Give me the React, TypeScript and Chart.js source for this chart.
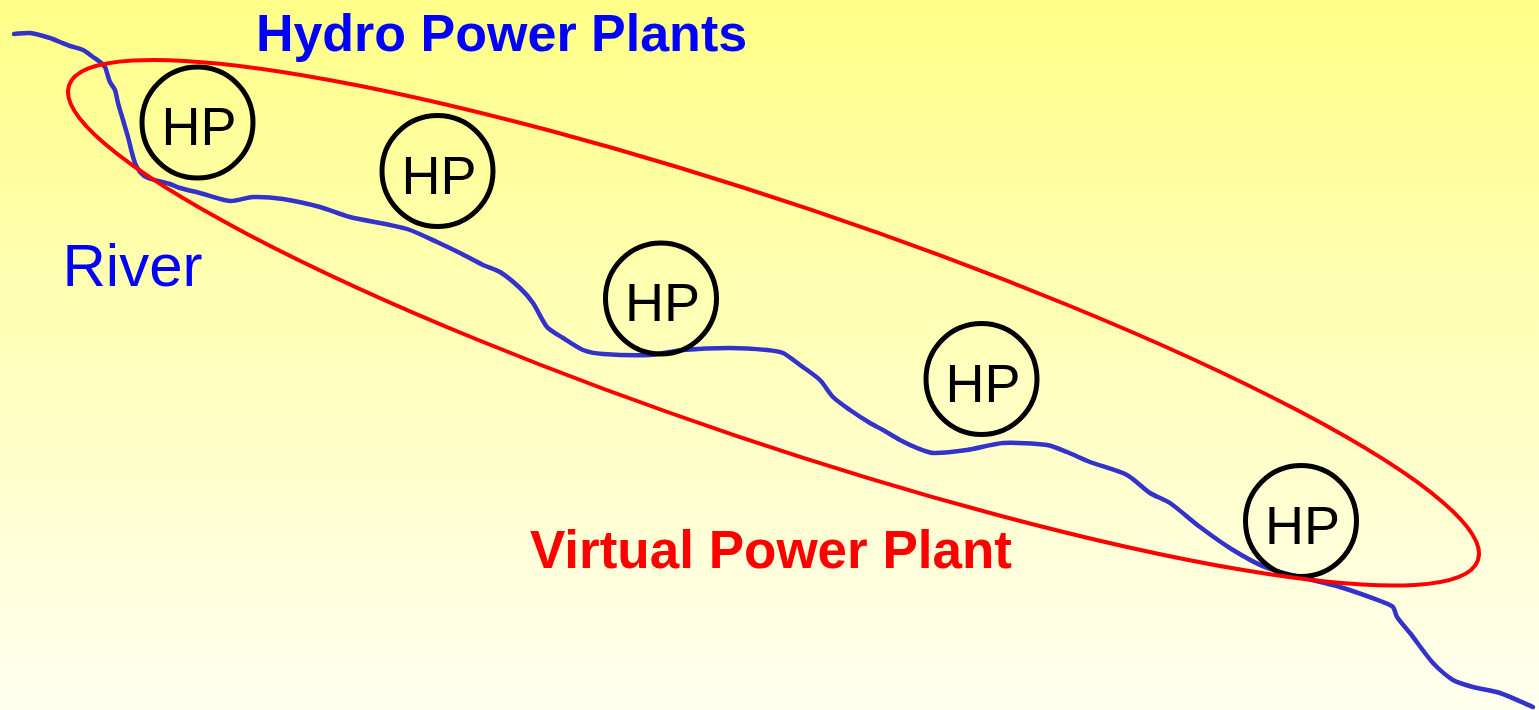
import React, { useEffect, useRef } from "react";
import { Chart, registerables } from "chart.js";

Chart.register(...registerables);

// River course (x to the right, y downward, in drawing units)
const riverX = [14, 30, 50, 60, 70, 83, 93, 100, 105, 107, 110, 115, 118, 123, 128, 132, 135, 140, 148, 170, 180, 200, 230, 253, 283, 320, 350, 390, 410, 437, 460, 483, 500, 520, 533, 547, 563, 583, 603, 650, 683, 730, 767, 783, 800, 820, 833, 850, 870, 883, 900, 917, 933, 967, 1003, 1047, 1067, 1090, 1127, 1150, 1170, 1200, 1233, 1267, 1300, 1340, 1383, 1393, 1397, 1410, 1433, 1453, 1473, 1500, 1533];
const riverY = [34, 33, 38, 42, 46, 50, 57, 62, 67, 73, 82, 90, 103, 120, 137, 153, 163, 172, 178, 184, 188, 193, 201, 197, 199, 207, 217, 225, 230, 242, 253, 265, 272, 288, 303, 327, 338, 350, 354, 355, 350, 348, 350, 353, 365, 380, 397, 410, 423, 430, 440, 448, 453, 450, 443, 445, 452, 462, 475, 493, 503, 527, 550, 568, 577, 587, 602, 607, 617, 633, 663, 680, 687, 693, 707];

// Hydro power plants
const plantLabels = ["HP", "HP", "HP", "HP", "HP"];
const plantX = [197.5, 437.5, 661, 981.5, 1301];
const plantY = [122.5, 171, 298.5, 379, 521];

// Virtual power plant boundary (ellipse): centre, semi-axes, tilt in degrees
const vppCenter = [773.5, 322.75];
const vppAxes = [743.4, 119];
const vppTilt = [18.62];

// Text labels
const textLabels = ["Hydro Power Plants", "Virtual Power Plant", "River"];
const textX = [501.5, 771, 132.5];
const textY = [51, 568, 286];
const textColors = ["#0000FF", "#FF0000", "#0000FF"];
const textFonts = [
  'bold 52px "Liberation Sans", Arial, sans-serif',
  'bold 53px "Liberation Sans", Arial, sans-serif',
  '60px "Liberation Sans", Arial, sans-serif',
];

const W = 1539;
const H = 710;

export default function App() {
  const ref = useRef<HTMLCanvasElement | null>(null);

  useEffect(() => {
    const canvas = ref.current;
    if (!canvas) return;

    const backgroundPlugin = {
      id: "bgGradient",
      beforeDraw(chart: any) {
        const { ctx, width, height } = chart;
        const g = ctx.createLinearGradient(0, 0, 0, height);
        g.addColorStop(0, "#FFFF88");
        g.addColorStop(1, "#FFFFF0");
        ctx.save();
        ctx.fillStyle = g;
        ctx.fillRect(0, 0, width, height);
        ctx.restore();
      },
    };

    const overlayPlugin = {
      id: "overlay",
      afterDatasetsDraw(chart: any) {
        const { ctx } = chart;
        const xs = chart.scales.x;
        const ys = chart.scales.y;
        // HP labels
        ctx.save();
        ctx.fillStyle = "#000000";
        ctx.font = '54px "Liberation Sans", Arial, sans-serif';
        ctx.textAlign = "center";
        ctx.textBaseline = "alphabetic";
        plantLabels.forEach((lab, i) => {
          const px = xs.getPixelForValue(plantX[i]);
          const py = ys.getPixelForValue(plantY[i]);
          ctx.fillText(lab, px + 1.5, py + 22.5);
        });
        ctx.restore();

        // Ellipse
        const cx = xs.getPixelForValue(vppCenter[0]);
        const cy = ys.getPixelForValue(vppCenter[1]);
        const rx = Math.abs(xs.getPixelForValue(vppCenter[0] + vppAxes[0]) - cx);
        const ry = Math.abs(ys.getPixelForValue(vppCenter[1] + vppAxes[1]) - cy);
        ctx.save();
        ctx.strokeStyle = "#FF0000";
        ctx.lineWidth = 4;
        ctx.beginPath();
        ctx.ellipse(cx, cy, rx, ry, (vppTilt[0] * Math.PI) / 180, 0, Math.PI * 2);
        ctx.stroke();
        ctx.restore();
      },
      afterDraw(chart: any) {
        const { ctx } = chart;
        const xs = chart.scales.x;
        const ys = chart.scales.y;
        ctx.save();
        ctx.textAlign = "center";
        ctx.textBaseline = "alphabetic";
        textLabels.forEach((t, i) => {
          ctx.font = textFonts[i];
          ctx.fillStyle = textColors[i];
          ctx.fillText(t, xs.getPixelForValue(textX[i]), ys.getPixelForValue(textY[i]));
        });
        ctx.restore();
      },
    };

    const chart = new Chart(canvas, {
      type: "scatter",
      data: {
        datasets: [
          {
            label: "Hydro Power Plants",
            data: plantX.map((x, i) => ({ x, y: plantY[i] })),
            pointRadius: 55.5,
            pointHoverRadius: 55.5,
            pointBorderWidth: 5,
            pointBorderColor: "#000000",
            pointBackgroundColor: "rgba(0,0,0,0)",
            borderColor: "#000000",
            backgroundColor: "rgba(0,0,0,0)",
            showLine: false,
            clip: false,
          } as any,
          {
            label: "River",
            data: riverX.map((x, i) => ({ x, y: riverY[i] })),
            showLine: true,
            borderColor: "#3333CC",
            borderWidth: 4.5,
            pointRadius: 0,
            tension: 0.25,
            fill: false,
            clip: false,
            borderJoinStyle: "round",
            borderCapStyle: "round",
          } as any,
        ],
      },
      options: {
        animation: false,
        responsive: false,
        maintainAspectRatio: false,
        events: [],
        layout: { padding: 0, autoPadding: false },
        plugins: {
          legend: { display: false },
          tooltip: { enabled: false },
        },
        scales: {
          x: { type: "linear", min: 0, max: W, display: false },
          y: { type: "linear", min: 0, max: H, reverse: true, display: false },
        },
      },
      plugins: [backgroundPlugin, overlayPlugin],
    });

    return () => chart.destroy();
  }, []);

  return (
    <div style={{ position: "fixed", left: 0, top: 0, width: W, height: H }}>
      <canvas ref={ref} width={W} height={H} style={{ display: "block", width: W, height: H }} />
    </div>
  );
}
